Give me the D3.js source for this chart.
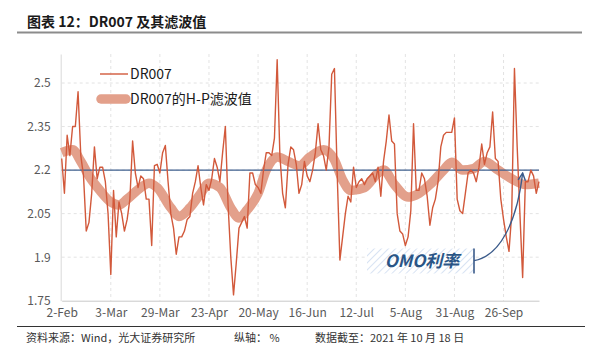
<!DOCTYPE html>
<html><head><meta charset="utf-8">
<script src="https://cdn.jsdelivr.net/npm/d3@7"></script>
<style>body{margin:0;background:#fff} svg{display:block;font-family:"Noto Sans CJK SC","Noto Sans",sans-serif}</style>
</head><body><svg id="c" width="594" height="356"></svg>
<script>
// DR007 daily values (trading days, 2-Feb-2021 .. 18-Oct-2021), %
const dr007 = [
 2.24,2.12,2.32,2.25,2.35,2.35,2.47,2.25,2.18,1.99,
 2.02,2.12,2.28,2.17,2.21,2.21,2.16,2.05,1.84,2.13,
 1.97,2.09,2.05,1.99,2.03,2.10,2.30,2.19,2.14,2.18,
 2.17,2.10,2.10,1.94,2.215,2.22,2.19,2.26,2.285,2.16,
 2.05,2.00,1.91,1.97,1.97,1.99,2.03,2.04,2.12,2.16,
 2.215,2.14,2.08,2.15,2.13,2.17,2.24,2.21,2.16,2.26,
 2.35,2.08,1.90,1.77,1.88,2.00,2.02,2.04,2.00,2.19,
 2.19,2.15,2.14,2.12,2.20,2.26,2.26,2.25,2.31,2.58,
 2.25,2.12,2.07,2.22,2.28,2.27,2.22,2.12,2.15,2.23,
 2.18,2.16,2.20,2.26,2.36,2.27,2.25,2.20,2.28,2.53,
 2.55,2.19,1.89,1.97,2.05,2.11,2.09,2.21,2.14,2.16,
 2.17,2.15,2.17,2.18,2.19,2.16,2.21,2.11,2.23,2.30,
 2.39,2.30,2.29,2.05,1.99,1.98,1.94,1.97,2.06,2.36,
 2.13,2.13,2.19,2.17,2.11,2.01,2.07,2.10,2.16,2.28,
 2.32,2.33,2.33,2.33,2.38,2.10,2.06,2.05,2.12,2.19,
 2.20,2.19,2.16,2.21,2.29,2.22,2.26,2.28,2.40,2.24,
 2.23,2.10,2.03,1.97,1.92,2.05,2.55,2.28,2.05,1.83,
 2.16,2.16,2.20,2.18,2.12,2.16
];
// H-P filtered values, read at selected trading-day indices
const hpIdx = [0,4,7,10,14,18,21,24,29,32,35,40,43,47,51,54,58,62,65,68,72,75,79,83,87,91,96,100,103,106,111,116,118,122,127,131,135,140,143,147,151,155,160,165,170,175];
const hpVal = [2.26,2.27,2.23,2.18,2.13,2.09,2.08,2.10,2.14,2.155,2.14,2.07,2.04,2.07,2.12,2.155,2.14,2.07,2.035,2.063,2.12,2.20,2.245,2.23,2.215,2.245,2.27,2.235,2.166,2.13,2.14,2.19,2.20,2.15,2.107,2.12,2.15,2.20,2.227,2.20,2.205,2.23,2.20,2.17,2.15,2.155];
const tickIdx = [0,18,36,54,72,90,108,126,144,162];
const tickLabels = ["2-Feb","3-Mar","29-Mar","23-Apr","20-May","16-Jun","12-Jul","5-Aug","31-Aug","26-Sep"];
const yTicks = [1.75,1.9,2.05,2.2,2.35,2.5];
const omoRate = 2.2;
const seriesNames = ["DR007","DR007的H-P滤波值"];

const svg = d3.select("#c");
const x = d3.scaleLinear().domain([0, dr007.length-1]).range([61.7, 539]);
const y = d3.scaleLinear().domain([1.75, 2.6]).range([300.7, 54]);

// defs
const defs = svg.append("defs");
const pat = defs.append("pattern").attr("id","hatch").attr("patternUnits","userSpaceOnUse")
  .attr("width",5).attr("height",5).attr("patternTransform","rotate(45)");
pat.append("rect").attr("width",5).attr("height",5).attr("fill","#fff");
pat.append("line").attr("x1",0).attr("y1",0).attr("x2",0).attr("y2",5).attr("stroke","#cfdcf0").attr("stroke-width",1.6);
defs.append("marker").attr("id","arr").attr("viewBox","0 0 10 10").attr("refX",9).attr("refY",5)
  .attr("markerWidth",7).attr("markerHeight",7).attr("orient","auto")
  .append("path").attr("d","M1,1 L9,5 L1,9").attr("fill","none").attr("stroke","#3a5a8a").attr("stroke-width",1.6);

// title
svg.append("text").attr("x",27).attr("y",27).attr("font-size",14).attr("font-weight","bold").attr("fill","#1a1a1a").text("图表 12：DR007 及其滤波值");
svg.append("line").attr("x1",17).attr("x2",582).attr("y1",32.5).attr("y2",32.5).attr("stroke","#8c8c8c").attr("stroke-width",1.8);

// grid
const g = svg.append("g");
g.selectAll("line.hg").data(yTicks.filter(d=>d>1.75)).join("line")
  .attr("x1",x(0)).attr("x2",x(dr007.length-1)).attr("y1",d=>y(d)).attr("y2",d=>y(d))
  .attr("stroke","#e3e3e3").attr("stroke-dasharray","3,3");
g.selectAll("line.vg").data(tickIdx.slice(1)).join("line")
  .attr("x1",d=>x(d)).attr("x2",d=>x(d)).attr("y1",y(2.6)).attr("y2",y(1.75))
  .attr("stroke","#e3e3e3").attr("stroke-dasharray","3,3");

// axes
const ya = svg.append("g").attr("transform",`translate(${x(0)-1},0)`)
  .call(d3.axisLeft(y).tickValues(yTicks).tickSize(0).tickPadding(10).tickFormat(d3.format("")));
ya.select(".domain").attr("stroke","#d9d9d9");
ya.selectAll("text").attr("font-size",12).attr("fill","#595959").attr("font-family","'Noto Sans CJK SC'");
const xa = svg.append("g").attr("transform",`translate(0,${y(1.75)})`)
  .call(d3.axisBottom(x).tickValues(tickIdx).tickSize(0).tickPadding(8).tickFormat((d,i)=>tickLabels[i]));
xa.select(".domain").attr("stroke","#c8c8c8");
xa.selectAll("text").attr("font-size",12).attr("fill","#595959").attr("font-family","'Noto Sans CJK SC'");

// HP band
const hp = hpIdx.map((d,i)=>[d,hpVal[i]]);
svg.append("path").datum(hp).attr("fill","none").attr("stroke","#e3a08b").attr("stroke-width",9.5)
  .attr("d", d3.line().x(d=>x(d[0])).y(d=>y(d[1])).curve(d3.curveMonotoneX));

// OMO line
svg.append("line").attr("x1",x(0)).attr("x2",x(dr007.length-1)).attr("y1",y(omoRate)).attr("y2",y(omoRate))
  .attr("stroke","#3e5f8e").attr("stroke-width",1.3);

// DR007 line
svg.append("path").datum(dr007).attr("fill","none").attr("stroke","#d2593b").attr("stroke-width",1.4)
  .attr("stroke-linejoin","round")
  .attr("d", d3.line().x((d,i)=>x(i)).y(d=>y(d)));

// legend
const lg = svg.append("g");
lg.append("line").attr("x1",100).attr("x2",128).attr("y1",74).attr("y2",74).attr("stroke","#d2593b").attr("stroke-width",1.4);
lg.append("text").attr("x",130).attr("y",79).attr("font-size",14).attr("fill","#1a1a1a").text(seriesNames[0]);
lg.append("line").attr("x1",101).attr("x2",126).attr("y1",99).attr("y2",99).attr("stroke","#e3a08b").attr("stroke-width",9.5).attr("stroke-linecap","round");
lg.append("text").attr("x",130).attr("y",104).attr("font-size",14).attr("fill","#1a1a1a").text(seriesNames[1]);

// OMO annotation
svg.append("rect").attr("x",367).attr("y",248.5).attr("width",107).attr("height",25).attr("fill","url(#hatch)");
svg.append("line").attr("x1",474).attr("x2",474).attr("y1",248.5).attr("y2",273.5).attr("stroke","#3a5a8a").attr("stroke-width",1.6);
svg.append("text").attr("x",422).attr("y",267).attr("text-anchor","middle").attr("font-size",17).attr("font-weight","bold")
  .attr("font-style","italic").attr("fill","#2a5586").text("OMO利率");
svg.append("path").attr("d",`M474,260.7 C500,256 517,222 ${x(169)},${y(omoRate)+3}`)
  .attr("fill","none").attr("stroke","#3a5a8a").attr("stroke-width",1.3).attr("marker-end","url(#arr)");

// footer
svg.append("line").attr("x1",17).attr("x2",585).attr("y1",326.5).attr("y2",326.5).attr("stroke","#333").attr("stroke-width",1.2);
const ft = svg.append("g").attr("font-size",11).attr("fill","#333");
ft.append("text").attr("x",26).attr("y",342).text("资料来源：Wind，光大证券研究所");
ft.append("text").attr("x",234).attr("y",342).text("纵轴： %");
ft.append("text").attr("x",315).attr("y",342).text("数据截至：2021 年 10 月 18 日");
</script></body></html>
